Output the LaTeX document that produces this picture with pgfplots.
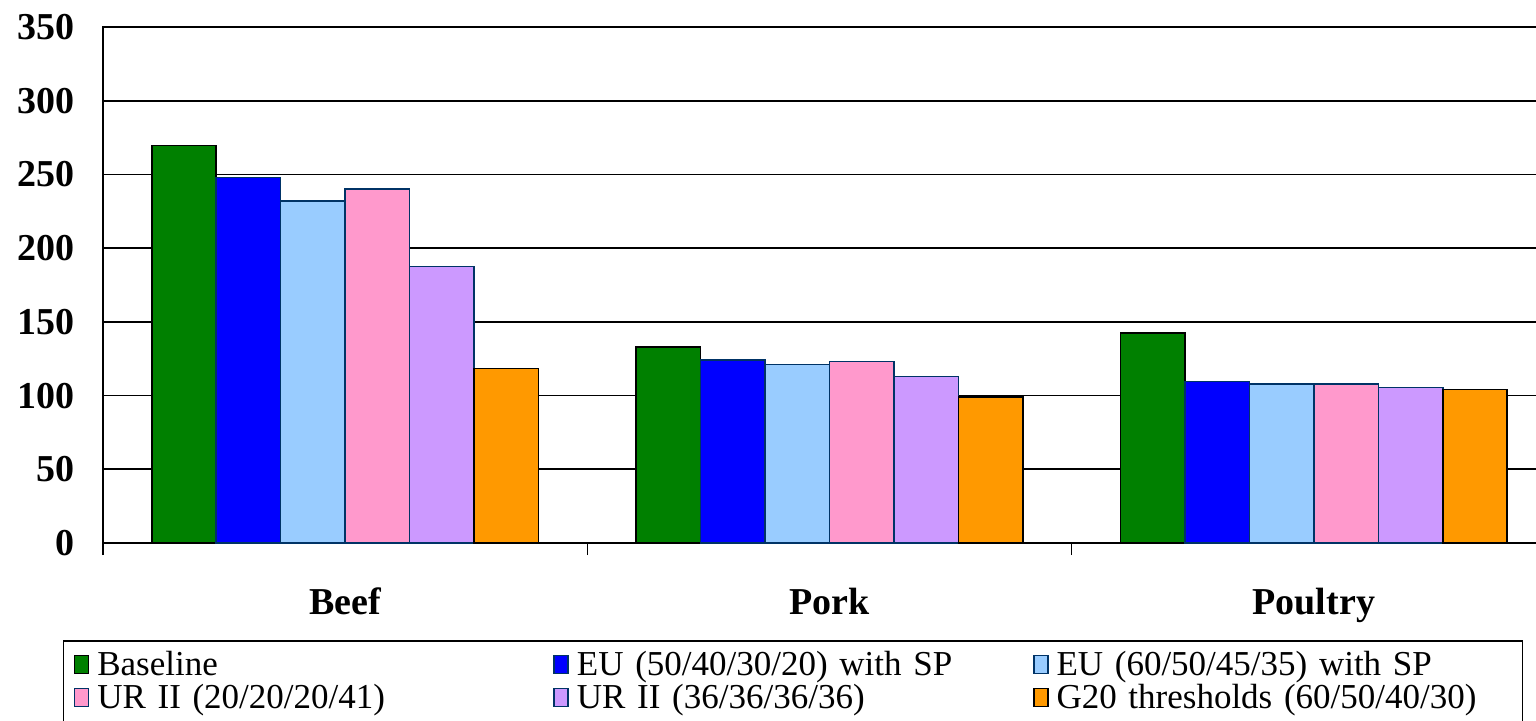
\documentclass[border=0pt]{standalone}
\usepackage{pgfplots}
\pgfplotsset{compat=1.18}
\usepackage{fontspec}
\setmainfont{Liberation Serif}

\definecolor{cBase}{HTML}{008000}
\definecolor{cEUa}{HTML}{0000FF}
\definecolor{cEUb}{HTML}{99CCFF}
\definecolor{cURa}{HTML}{FF99CC}
\definecolor{cURb}{HTML}{CC99FF}
\definecolor{cGtw}{HTML}{FF9900}
\definecolor{cEdge}{HTML}{003366}

\pgfplotsset{
  leg/.style={legend image code/.code={%
    \draw[##1, line width=0.8pt] (0pt,-4.5pt) rectangle (7pt,4.5pt);}},
}

\begin{document}
\begin{tikzpicture}
\begin{axis}[
  at={(0,0)}, anchor=south west,
  scale only axis,
  width=726.5pt, height=258pt,
  xmin=-0.5, xmax=2.5,
  ymin=0, ymax=350,
  ytick={0,50,...,350},
  ymajorgrids,
  grid style={black, line width=0.8pt},
  axis line style={black, line width=1pt},
  ytick style={draw=none},
  xtick={-0.5,0.5,1.5,2.5},
  xticklabels={},
  xtick pos=left,
  tick align=outside,
  major tick length=6pt,
  xtick style={black, line width=0.8pt},
  extra x ticks={0,1,2},
  extra x tick labels={Beef,Pork,Poultry},
  extra x tick style={major tick length=0pt, xmajorgrids=false,
    tick style={draw=none},
    xticklabel style={yshift=-19pt}},
  /pgf/number format/assume math mode=true,
  ticklabel style={font=\fontsize{19}{19}\selectfont\bfseries},
  yticklabel style={xshift=-4.5pt},
  ybar=0pt,
  bar width=0.1331,
  legend columns=3,
  legend cell align=left,
  legend style={
    at={([xshift=-20pt,yshift=-48.5pt]axis description cs:0,0)},
    anchor=north west,
    font=\fontsize{17.5}{17.5}\selectfont,
    draw=black, line width=0.75pt,
    inner xsep=5pt, inner ysep=3pt,
    row sep=-1pt,
    /tikz/every even column/.append style={text width=226pt},
    /tikz/every odd column/.append style={column sep=2pt},
    /tikz/column 6/.append style={text width=227pt},
  },
]
\addplot[fill=cBase, draw=black, line width=0.75pt, leg]
  coordinates {(0,269.5) (1,133) (2,142.5)};
\addplot[fill=cEUa, draw=cEdge, line width=0.75pt, leg]
  coordinates {(0,248) (1,124) (2,109.5)};
\addplot[fill=cEUb, draw=cEdge, line width=0.75pt, leg]
  coordinates {(0,232) (1,121) (2,108)};
\addplot[fill=cURa, draw=cEdge, line width=0.75pt, leg]
  coordinates {(0,240) (1,123) (2,108)};
\addplot[fill=cURb, draw=cEdge, line width=0.75pt, leg]
  coordinates {(0,187.5) (1,113) (2,105.5)};
\addplot[fill=cGtw, draw=black, line width=0.75pt, leg]
  coordinates {(0,118.5) (1,99) (2,104)};
\legend{Baseline, EU (50/40/30/20) with SP, EU (60/50/45/35) with SP,
  UR II (20/20/20/41), UR II (36/36/36/36), G20 thresholds (60/50/40/30)}
\end{axis}
\pgfresetboundingbox
\path[use as bounding box] (-51.5pt,-88.5pt) rectangle (716.5pt,271.5pt);
\end{tikzpicture}
\end{document}
